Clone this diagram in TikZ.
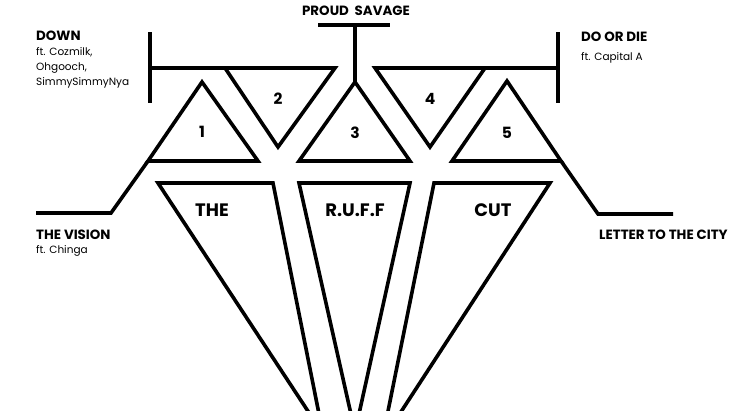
\documentclass[tikz,border=0pt]{standalone}
\usepackage{fontspec}
\setmainfont{Poppins}
\begin{document}
\begin{tikzpicture}[x=1pt,y=-1pt,
  shape line/.style={line width=3.6pt,line join=miter,draw=black},
  title/.style={font=\fontsize{13.4}{15}\selectfont\bfseries,inner sep=0pt},
  sub/.style={font=\fontsize{10.5}{12}\selectfont,inner sep=0pt},
  num/.style={font=\fontsize{15.5}{17}\selectfont\bfseries,inner sep=0pt},
  big/.style={font=\fontsize{18}{20}\selectfont\bfseries,inner sep=0pt}]
\useasboundingbox (0,0) rectangle (750,410);
\fill[white] (0,0) rectangle (750,410);
\clip (0,0) rectangle (750,410);
% named points
\coordinate (lbT) at (150,32); \coordinate (lbB) at (150,103);
\coordinate (rbT) at (558,32); \coordinate (rbB) at (558,103);
\coordinate (ps1) at (318,25); \coordinate (ps2) at (390,25); \coordinate (psm) at (355,25);
% upper triangles
\draw[shape line] (202,82) -- (258,161) -- (148,161) -- cycle;
\draw[shape line] (lbT) -- (lbB);
\draw[shape line] (150,68) -- (335,68) -- (278,147) -- (225,68);
\draw[shape line] (355,82) -- (410,161) -- (299,161) -- cycle;
\draw[shape line] (ps1) -- (ps2);
\draw[shape line] (psm) -- (355,82);
\draw[shape line] (558,68) -- (375,68) -- (430,147) -- (485,68);
\draw[shape line] (rbT) -- (rbB);
\draw[shape line] (507,81) -- (561,161) -- (452,161) -- cycle;
% side leaders
\draw[shape line] (148,161) -- (111,213) -- (36,213);
\draw[shape line] (561,161) -- (598,214) -- (673,214);
% lower fan
\draw[shape line] (158,183) -- (273,183) -- (323,434) -- cycle;
\draw[shape line] (299,183) -- (410,183) -- (355,432) -- cycle;
\draw[shape line] (434,183) -- (550,183) -- (382,441) -- cycle;
% texts
\node[title,anchor=base] (ps) at (356,15) {PROUD\ \ SAVAGE};
\node[title,anchor=base west] (down) at (36,40) {DOWN};
\node[sub,anchor=base west] (d1) at (36,55) {ft. Cozmilk,};
\node[sub,anchor=base west] (d2) at (36,70) {Ohgooch,};
\node[sub,anchor=base west] (d3) at (36,85) {SimmySimmyNya};
\node[title,anchor=base west] (dod) at (581,41) {DO OR DIE};
\node[sub,anchor=base west] (dod1) at (581,60) {ft. Capital A};
\node[title,anchor=base west] (vis) at (36,239) {THE VISION};
\node[sub,anchor=base west] (vis1) at (36,253) {ft. Chinga};
\node[title,anchor=base west] (let) at (599,239) {LETTER TO THE CITY};
\node[num] (n1) at (202,132) {1};
\node[num] (n2) at (278,99) {2};
\node[num] (n3) at (355,133) {3};
\node[num] (n4) at (430,99) {4};
\node[num] (n5) at (507,133) {5};
\node[big] (the) at (212,210) {THE};
\node[big] (ruff) at (355,210) {R.U.F.F};
\node[big] (cut) at (493,210) {CUT};
\end{tikzpicture}
\end{document}
